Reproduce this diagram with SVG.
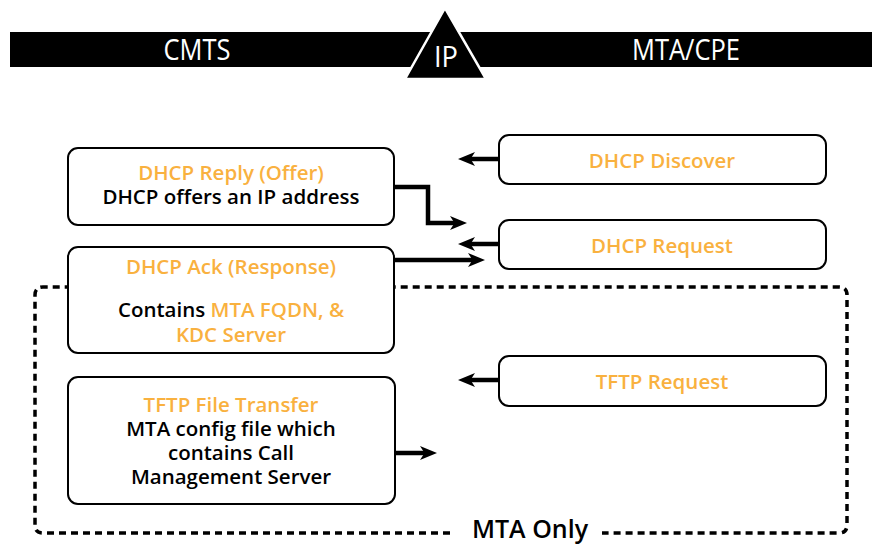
<svg xmlns="http://www.w3.org/2000/svg" width="872" height="546" viewBox="0 0 872 546">
<style>
.box{fill:#fff;stroke:#000;stroke-width:2}
.t{font-family:"Open Sans","Noto Sans",sans-serif;font-size:20.5px;font-weight:600;text-anchor:middle}
.o{fill:#F9B13F}
.k{fill:#000}
.hdr{font-family:"Open Sans","Noto Sans",sans-serif;font-size:29px;fill:#fff;text-anchor:middle}
.conn{fill:none;stroke:#000;stroke-width:4.5;marker-end:url(#arr)}
</style>
<defs>
<marker id="arr" viewBox="0 0 17 14" markerWidth="17" markerHeight="14" refX="7" refY="7" orient="auto" markerUnits="userSpaceOnUse">
<path d="M0,0 L17,7 L0,14 L4.5,7 z" fill="#000"/>
</marker>
</defs>
<rect width="872" height="546" fill="#fff"/>
<g id="header">
<rect x="10" y="32" width="440" height="35" fill="#000"/>
<rect x="445" y="32" width="427" height="35" fill="#000"/>
<polygon points="445,8 405,79 486,79" fill="#000" stroke="#fff" stroke-width="2.5"/>
<text class="hdr" x="197" y="60" textLength="67" lengthAdjust="spacingAndGlyphs">CMTS</text>
<text class="hdr" x="446" y="67" textLength="24" lengthAdjust="spacingAndGlyphs">IP</text>
<text class="hdr" x="686" y="60" textLength="108" lengthAdjust="spacingAndGlyphs">MTA/CPE</text>
</g>
<g id="mta-only">
<path d="M450,533 L43,533 Q35,533 35,525 L35,295 Q35,287 43,287 L839,287 Q847,287 847,295 L847,525 Q847,533 839,533 L602,533" fill="none" stroke="#000" stroke-width="3.5" stroke-dasharray="7 5"/>
<text x="530" y="538" font-family="'Open Sans','Noto Sans',sans-serif" font-size="25" font-weight="600" text-anchor="middle" fill="#000">MTA Only</text>
</g>
<g id="dhcp-reply">
<rect class="box" x="68" y="148" width="326" height="77" rx="10"/>
<text class="t o" x="231" y="180">DHCP Reply (Offer)</text>
<text class="t k" x="231" y="204">DHCP offers an IP address</text>
</g>
<g id="dhcp-ack">
<rect class="box" x="68" y="247" width="326" height="106" rx="10"/>
<text class="t o" x="231" y="274">DHCP Ack (Response)</text>
<text class="t" x="231" y="317"><tspan class="k">Contains </tspan><tspan class="o">MTA FQDN, &amp;</tspan></text>
<text class="t o" x="231" y="342">KDC Server</text>
</g>
<g id="tftp-transfer">
<rect class="box" x="68" y="377" width="327" height="127" rx="10"/>
<text class="t o" x="231" y="412">TFTP File Transfer</text>
<text class="t k" x="231" y="436">MTA config file which</text>
<text class="t k" x="231" y="460">contains Call</text>
<text class="t k" x="231" y="484">Management Server</text>
</g>
<g id="dhcp-discover">
<rect class="box" x="499" y="135" width="327" height="49" rx="10"/>
<text class="t o" x="662" y="168">DHCP Discover</text>
</g>
<g id="dhcp-request">
<rect class="box" x="499" y="220" width="327" height="49" rx="10"/>
<text class="t o" x="662" y="253">DHCP Request</text>
</g>
<g id="tftp-request">
<rect class="box" x="499" y="356" width="327" height="50" rx="10"/>
<text class="t o" x="662" y="389">TFTP Request</text>
</g>
<g id="connectors">
<path class="conn" d="M499,159 L468,159"/>
<path class="conn" d="M499,244 L468,244"/>
<path class="conn" d="M499,380 L468,380"/>
<path class="conn" d="M394,187 L428,187 L428,223 L457,223"/>
<path class="conn" d="M394,260 L475,260"/>
<path class="conn" d="M395,453 L427,453"/>
</g>
</svg>
